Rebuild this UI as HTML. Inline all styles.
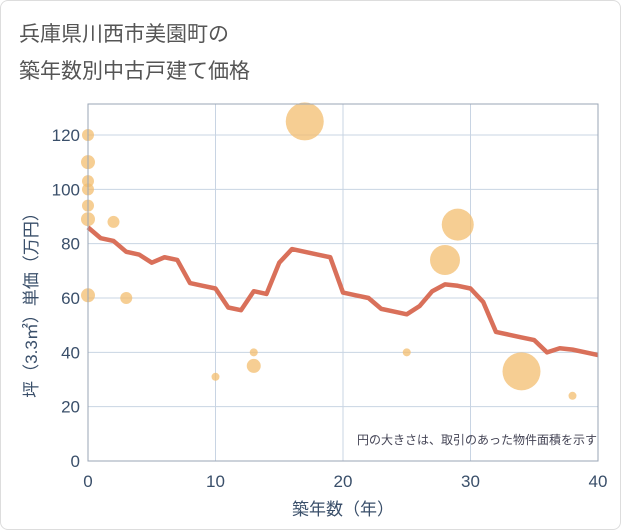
<!DOCTYPE html>
<html><head><meta charset="utf-8"><style>
body{margin:0;background:#fff;font-family:"Liberation Sans","Noto Sans CJK JP",sans-serif}
#wrap{position:relative;width:619px;height:528px;border:1px solid #ddd;border-radius:8px;overflow:hidden}
</style></head><body>
<div id="wrap">
<svg id="chart" width="621" height="530">
<text x="18" y="40" font-size="21" fill="#555">兵庫県川西市美園町の</text>
<text x="18" y="77" font-size="21" fill="#555">築年数別中古戸建て価格</text>
<g id="grid"></g><g id="bubbles"></g><g id="line"></g><g id="axes"></g>
<text x="596" y="443" font-size="12" fill="#445" text-anchor="end">円の大きさは、取引のあった物件面積を示す</text>
<text x="342" y="514" font-size="17" fill="#3a4f6a" text-anchor="middle">築年数（年）</text>
<text transform="translate(36,300) rotate(-90)" font-size="17" fill="#3a4f6a" text-anchor="middle">坪（3.3㎡）単価（万円）</text>
</svg></div>
<script>
const years=[0,1,2,3,4,5,6,7,8,9,10,11,12,13,14,15,16,17,18,19,20,21,22,23,24,25,26,27,28,29,30,31,32,33,34,35,36,37,38,39,40];
const avgPrice=[86,82,81,77,76,73,75,74,65.5,64.5,63.5,56.5,55.5,62.5,61.5,73,78,77,76,75,62,61,60,56,55,54,57,62.5,65,64.5,63.5,58.5,47.5,46.5,45.5,44.5,40,41.5,41,40,39];
const bubbleAge=[0,0,0,0,0,0,0,2,3,10,13,13,17,25,28,29,34,38];
const bubblePrice=[120,110,103,100,94,89,61,88,60,31,40,35,125,40,74,87,33,24];
const bubbleSize=[6,7,6,6,6,7,7,6,6,4,4,7,19,4,15,16,19,4];
const xTicks=[0,10,20,30,40];
const yTicks=[0,20,40,60,80,100,120];
const L=87,R=597,T=103,B=460;
const xs=v=>L+(v-0)/40*(R-L);
const ys=v=>B-v*(B-134)/120;
const NS="http://www.w3.org/2000/svg";
function mk(p,tag,a){const e=document.createElementNS(NS,tag);for(const k in a)e.setAttribute(k,a[k]);p.appendChild(e);return e;}
const grid=document.getElementById('grid'),axes=document.getElementById('axes');
yTicks.forEach(v=>{
 const l=mk(grid,'line',{x1:L,x2:R,y1:ys(v),y2:ys(v),stroke:'#c8d4e3','stroke-width':1});
 
 
 const t=mk(axes,'text',{x:L-8,y:ys(v)+6,'font-size':17,fill:'#3a4f6a','text-anchor':'end'});t.textContent=v;
 
 
});
xTicks.forEach(v=>{
 const l=mk(grid,'line',{x1:xs(v),x2:xs(v),y1:T,y2:B,stroke:'#c8d4e3','stroke-width':1});
 
 
 const t=mk(axes,'text',{x:xs(v),y:B+26,'font-size':17,fill:'#3a4f6a','text-anchor':'middle'});t.textContent=v;
 
 
});
const frame=mk(axes,'rect',{x:L,y:T,width:R-L,height:B-T,fill:'none',stroke:'#9aa5b5','stroke-width':1});


const bg=document.getElementById('bubbles');
bubbleAge.forEach((a,i)=>{
 const c=mk(bg,'circle',{cx:xs(a),cy:ys(bubblePrice[i]),r:bubbleSize[i],fill:'#f3be6f','fill-opacity':0.75});
 
 
});
const pl=mk(document.getElementById('line'),'polyline',{points:years.map((y,i)=>xs(y)+','+ys(avgPrice[i])).join(' '),fill:'none',stroke:'#d9705a','stroke-width':4.5,'stroke-linejoin':'round'});


</script>
</body></html>
